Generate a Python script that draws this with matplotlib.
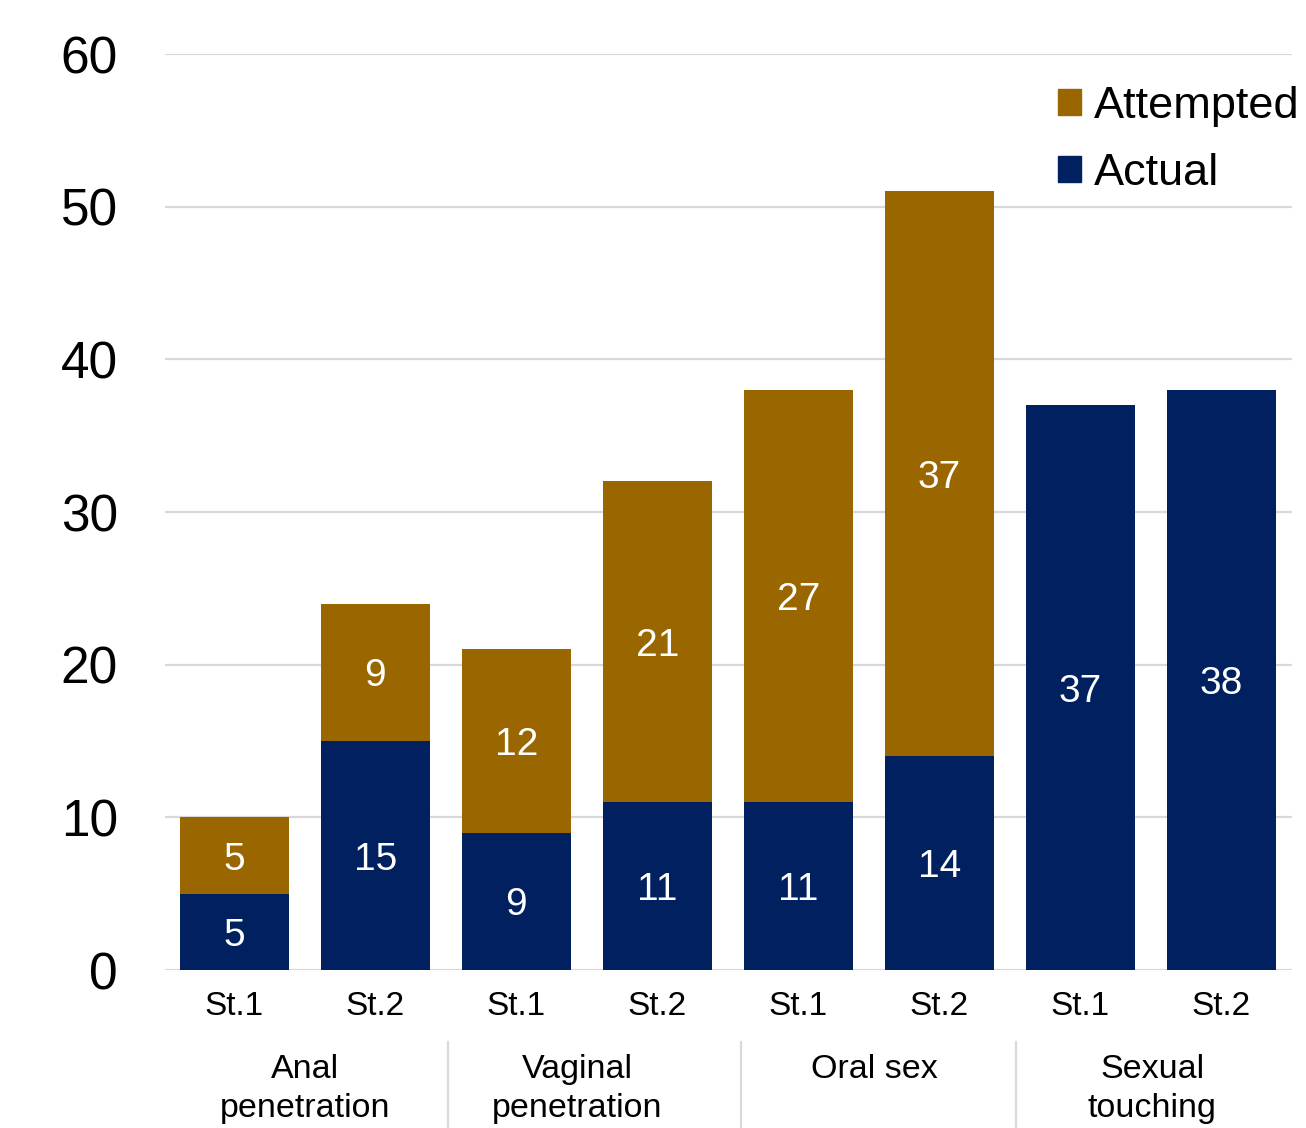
import matplotlib
matplotlib.use("Agg")
import matplotlib.pyplot as plt
import matplotlib.transforms as mtransforms
from matplotlib.patches import Patch

plt.rcParams['font.family'] = ['Liberation Sans', 'DejaVu Sans']

stages = ["St.1", "St.2", "St.1", "St.2", "St.1", "St.2", "St.1", "St.2"]
groups = ["Anal\npenetration", "Vaginal\npenetration", "Oral sex", "Sexual\ntouching"]
actual = [5, 15, 9, 11, 11, 14, 37, 38]
attempted = [5, 9, 12, 21, 27, 37, 0, 0]
yticks = [0, 10, 20, 30, 40, 50, 60]

c_att = "#996600"
c_act = "#002060"
grid_c = "#d9d9d9"

fig = plt.figure(figsize=(13.06, 11.28), dpi=100)
ax = fig.add_axes([165/1306, 1 - 970/1128, (1292-165)/1306, (970-54)/1128])

x = list(range(len(stages)))
w = 0.773
ax.bar(x, actual, width=w, color=c_act, zorder=3)
ax.bar(x, attempted, width=w, bottom=actual, color=c_att, zorder=3)

for xi, a, t in zip(x, actual, attempted):
    if a:
        ax.text(xi, a/2, str(a), ha='center', va='center_baseline', color='white',
                fontsize=28, zorder=4)
    if t:
        ax.text(xi, a + t/2, str(t), ha='center', va='center_baseline', color='white',
                fontsize=28, zorder=4)

ax.set_ylim(0, 60)
ax.set_xlim(-0.49, 7.5)
ax.set_yticks(yticks)
ax.set_yticklabels([str(v) for v in yticks], fontsize=37)
ax.set_xticks(x)
ax.set_xticklabels(stages, fontsize=24)
ax.tick_params(axis='y', length=0, pad=34)
ax.tick_params(axis='x', length=0, pad=15)
for s in ax.spines.values():
    s.set_visible(False)
ax.yaxis.grid(True, color=grid_c, linewidth=1.6, zorder=0)
ax.set_axisbelow(True)

# group labels & separators
trans = mtransforms.blended_transform_factory(ax.transData, fig.transFigure)
group_centers = [0.504, 2.43, 4.54, 6.51]
for gx, g in zip(group_centers, groups):
    ax.text(gx, 1 - 1054/1128, g, transform=trans, ha='center', va='top',
            fontsize=24.5, linespacing=1.32)
for sx in [1.518, 3.596, 5.546]:
    ax.plot([sx, sx], [1 - 1042/1128, 0], transform=trans, color=grid_c,
            linewidth=1.6, clip_on=False)

handles = [Patch(color=c_att, label="Attempted"), Patch(color=c_act, label="Actual")]
leg = fig.legend(handles=handles, loc='upper left',
                 bbox_to_anchor=(1058/1306, 1 - 86/1128), frameon=False,
                 fontsize=32.5, handlelength=0.5, handleheight=0.5,
                 handletextpad=0.29, borderpad=0, borderaxespad=0,
                 labelspacing=0.58)

fig.savefig("out.png", dpi=100, facecolor='white')
